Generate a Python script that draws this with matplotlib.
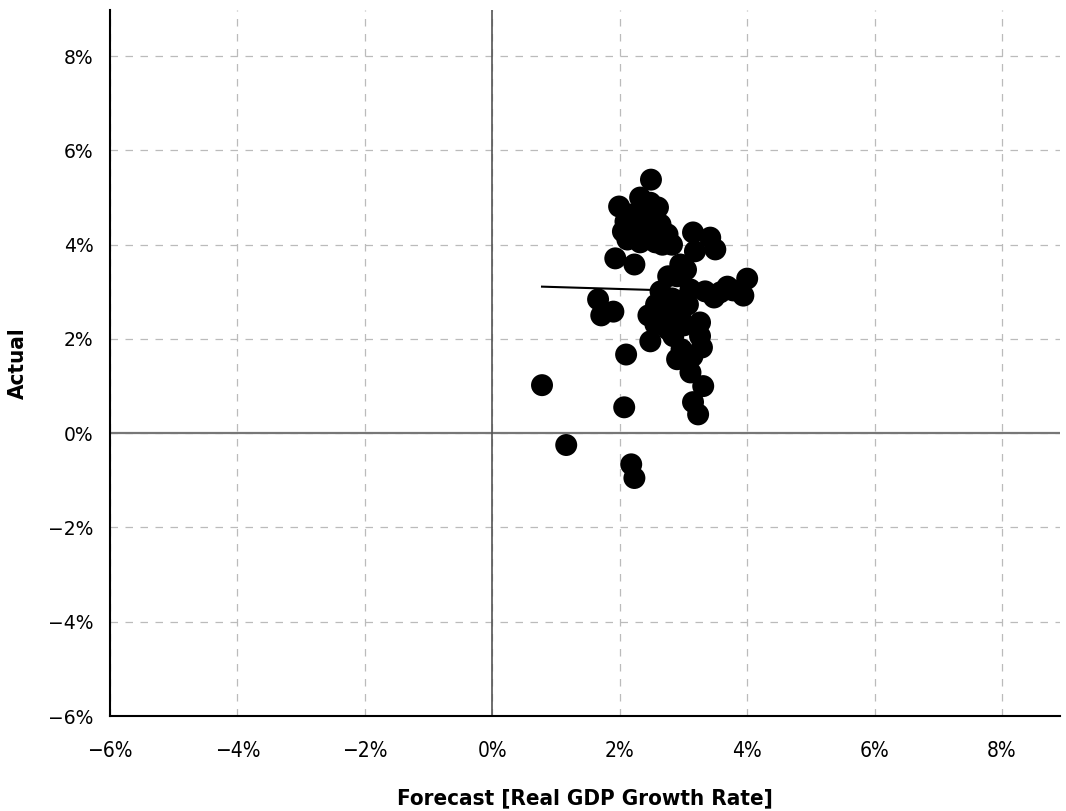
import numpy as np
import matplotlib.pyplot as plt

# forecast vs actual real GDP growth (%)
forecast = [0.78, 1.16, 2.18, 2.23, 2.07, 2.10, 1.66, 1.71, 1.90, 1.93,
            2.23, 2.49, 1.99, 2.32, 2.60, 2.05, 2.09, 2.24, 2.40, 2.48,
            2.64, 2.75, 2.32, 2.56, 2.82, 2.16, 2.40, 2.67, 3.15, 3.42,
            3.50, 3.18, 2.95, 2.90, 3.04, 4.00, 3.94, 3.69, 3.48, 3.34,
            3.11, 2.64, 2.82, 2.57, 2.45, 2.67, 2.95, 2.76, 3.01, 3.26,
            3.26, 2.48, 2.84, 2.90, 2.97, 3.14, 3.29, 3.11, 3.31, 3.15,
            3.23, 2.76, 2.71, 2.56, 3.07, 3.58, 3.78, 2.12, 2.48]
actual = [1.02, -0.25, -0.66, -0.95, 0.55, 1.67, 2.84, 2.50, 2.58, 3.71,
          3.58, 5.38, 4.81, 5.00, 4.79, 4.28, 4.49, 4.32, 4.53, 4.22,
          4.43, 4.22, 4.05, 4.05, 4.00, 4.64, 4.75, 4.00, 4.26, 4.15,
          3.90, 3.86, 3.58, 3.33, 3.47, 3.28, 2.92, 3.11, 2.88, 3.01,
          3.05, 3.01, 2.86, 2.73, 2.50, 2.46, 2.50, 2.20, 2.29, 2.35,
          2.06, 1.95, 2.06, 1.57, 1.78, 1.63, 1.82, 1.29, 1.00, 0.66,
          0.40, 3.33, 2.63, 2.31, 2.73, 2.99, 3.03, 4.11, 4.89]

# trend line end points
trend_x = [0.78, 3.98]
trend_y = [3.11, 2.98]

ticks = [-6, -4, -2, 0, 2, 4, 6, 8]
tick_labels = ['\u22126%', '\u22124%', '\u22122%', '0%', '2%', '4%', '6%', '8%']

fig = plt.figure(figsize=(10.66, 8.11), dpi=100)
ax = fig.add_axes([0.1032, 0.1171, 0.8912, 0.8706])

ax.set_xlim(-6, 8.91)
ax.set_ylim(-6, 8.98)
ax.set_xticks(ticks)
ax.set_yticks(ticks)
ax.set_xticklabels(tick_labels, fontsize=15, family='DejaVu Sans', fontstretch='condensed')
ax.set_yticklabels(tick_labels, fontsize=13.5)
ax.tick_params(length=0, pad=12)
ax.tick_params(axis='x', pad=18)

ax.grid(True, linestyle=(0, (6, 6)), color='#bbbbbb', linewidth=0.9)
ax.set_axisbelow(True)
ax.axhline(0, color='#777777', linewidth=1.6, zorder=1)
ax.axvline(0, color='#555555', linewidth=1.2, zorder=1)

for s in ['top', 'right']:
    ax.spines[s].set_visible(False)
ax.spines['left'].set_linewidth(1.5)
ax.spines['bottom'].set_linewidth(1.5)

ax.scatter(forecast, actual, s=250, color='black', edgecolors='none', zorder=3)
ax.plot(trend_x, trend_y, color='black', linewidth=1.5, zorder=2)

ax.set_xlabel('Forecast [Real GDP Growth Rate]', fontsize=16, fontweight='bold',
              family='DejaVu Sans', fontstretch='condensed', labelpad=20)
ax.set_ylabel('Actual', fontsize=16, fontweight='bold',
              family='DejaVu Sans', fontstretch='condensed', labelpad=14)

plt.savefig('out.png', dpi=100)
